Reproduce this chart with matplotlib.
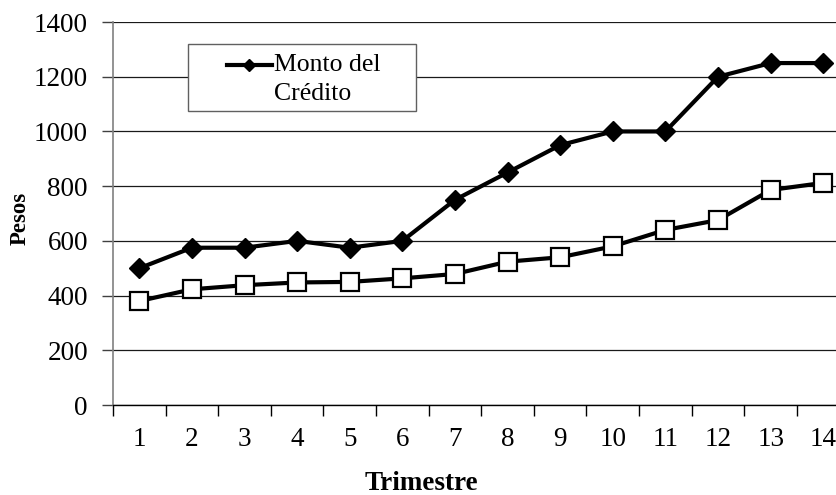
import matplotlib.pyplot as plt
from matplotlib.patches import Rectangle

# quarterly data
trimestres = list(range(1, 15))
monto_credito = [500, 575, 575, 600, 575, 600, 750, 850, 950, 1000, 1000, 1200, 1250, 1250]
segunda_serie = [380, 423, 438, 448, 450, 463, 479, 524, 540, 580, 640, 676, 786, 812]
y_ticks = [0, 200, 400, 600, 800, 1000, 1200, 1400]

plt.rcParams['font.family'] = ['Liberation Serif', 'DejaVu Serif']

fig = plt.figure(figsize=(8.37, 4.95), dpi=100)
ax = fig.add_axes([0.135, 0.1818, 0.880, 0.7737])

ax.plot(trimestres, monto_credito, color='black', lw=3, marker='D', ms=10.5,
        mfc='black', mec='black', label='Monto del\nCrédito', zorder=4)
ax.plot(trimestres, segunda_serie, color='black', lw=3, marker='s', ms=12.5,
        mfc='white', mec='black', mew=1.6, zorder=3)

ax.set_xlim(0.5, 14.5)
ax.set_ylim(0, 1400)

# category labels at centers, tick marks at boundaries
ax.set_xticks(trimestres)
ax.set_xticklabels([str(t) for t in trimestres])
ax.set_xticks([t + 0.5 for t in range(0, 14)], minor=True)
ax.tick_params(axis='x', which='major', length=0, pad=16, labelsize=19.5)
ax.tick_params(axis='x', which='minor', length=8, width=1, direction='out', color='black')

ax.set_yticks(y_ticks)
ax.tick_params(axis='y', length=8, width=1, direction='out', color='#404040', pad=10, labelsize=19.5)
ax.yaxis.grid(True, color='#1a1a1a', lw=0.9)
ax.set_axisbelow(True)

for s in ['top', 'right']:
    ax.spines[s].set_visible(False)
ax.spines['left'].set_color('#808080')
ax.spines['left'].set_linewidth(1.2)
ax.spines['bottom'].set_color('black')
ax.spines['bottom'].set_linewidth(1)

ax.set_xlabel('Trimestre', fontsize=19.5, fontweight='bold', va='center')
ax.xaxis.set_label_coords(0.418, -0.204)
ax.set_ylabel('Pesos', fontsize=16.5, fontweight='bold', va='center')
ax.yaxis.set_label_coords(-0.126, 0.488)

# legend box
ax.add_patch(Rectangle((0.2246, 0.7758), 0.2724, 0.1354, transform=fig.transFigure,
                       facecolor='white', edgecolor='#606060', lw=1, zorder=5))
leg = ax.legend(loc='center', bbox_to_anchor=(0.363, 0.84), bbox_transform=fig.transFigure,
                frameon=False, fontsize=18.5, handlelength=1.75, handletextpad=0.1)
leg.set_zorder(6)
for t in leg.get_texts():
    t.set_linespacing(1.4)
# put the legend line next to the first text line
h = leg.legend_handles[0]
h.set_markersize(6.5)
h.set_ydata(h.get_ydata() + 10)

fig.savefig('out.png', dpi=100)
